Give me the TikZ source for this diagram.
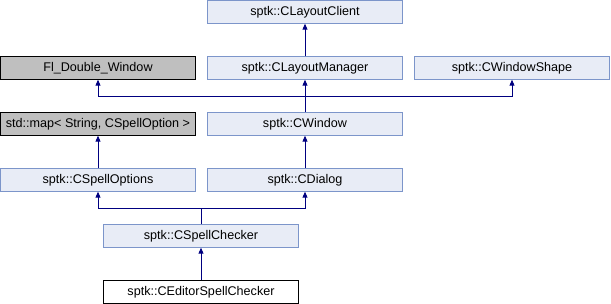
\documentclass[tikz,border=0pt]{standalone}
\usepackage{fontspec}
\setmainfont{Liberation Sans}
\usetikzlibrary{arrows.meta}
\definecolor{clsfill}{HTML}{E8ECF6}
\definecolor{clsline}{HTML}{7C95CA}
\definecolor{extfill}{HTML}{BFBFBF}
\definecolor{edgecol}{HTML}{000080}

\begin{document}
\begin{tikzpicture}[x=1pt, y=1pt, cls/.style = {draw=clsline, fill=clsfill, line width=0.9pt, minimum width=195pt, minimum height=22.5pt, inner sep=0pt, font=\fontsize{12.6}{14}\selectfont}, ext/.style = {cls, draw=black, fill=extfill}, own/.style = {cls, draw=black, fill=white}, edge/.style = {draw=edgecol, line width=0.9pt, -{Triangle[length=6pt, width=5pt]}}]

    % 1. Ramka obrazka
    \useasboundingbox (0,0) rectangle (611,-304);

    % 2. Klasy
    \node[cls] (client) at (305,-12) {sptk::CLayoutClient};
    \node[ext] (fldw) at (98,-68) {Fl\_Double\_Window};
    \node[cls] (laymgr) at (305,-68) {sptk::CLayoutManager};
    \node[cls] (wshape) at (512,-68) {sptk::CWindowShape};
    \node[ext] (stdmap) at (98,-124) {std::map< String, CSpellOption >};
    \node[cls] (window) at (305,-124) {sptk::CWindow};
    \node[cls] (options) at (98,-180) {sptk::CSpellOptions};
    \node[cls] (dialog) at (305,-180) {sptk::CDialog};
    \node[cls] (checker) at (201,-236) {sptk::CSpellChecker};
    \node[own] (editor) at (201,-292) {sptk::CEditorSpellChecker};

    % 3. Punkty rozgałęzień
    \coordinate (j1) at (305,-96);
    \coordinate (j2) at (201,-208);

    % 4. Dziedziczenie
    \draw[edge] (laymgr) -- (client);
    \draw[draw=edgecol, line width=0.9pt] (window) -- (j1);
    \draw[edge] (j1) -| (fldw);
    \draw[edge] (j1) -- (laymgr);
    \draw[edge] (j1) -| (wshape);
    \draw[edge] (options) -- (stdmap);
    \draw[edge] (dialog) -- (window);
    \draw[draw=edgecol, line width=0.9pt] (checker) -- (j2);
    \draw[edge] (j2) -| (options);
    \draw[edge] (j2) -| (dialog);
    \draw[edge] (editor) -- (checker);
\end{tikzpicture}
\end{document}
